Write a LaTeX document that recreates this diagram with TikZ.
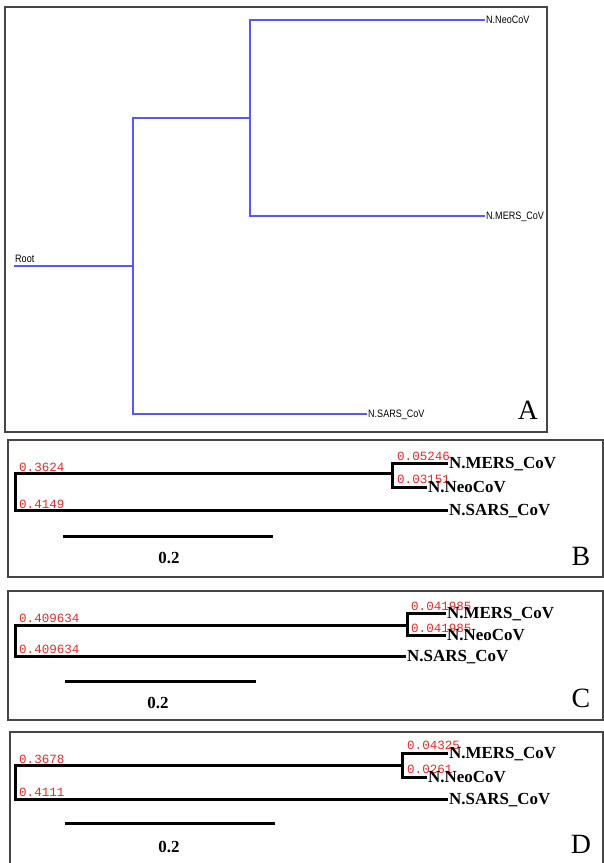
\documentclass[tikz,border=0pt]{standalone}
\usepackage{fontspec}
\setmainfont{Liberation Serif}
\newfontfamily\monof{Liberation Mono}
\newfontfamily\sansf{Liberation Sans}
\definecolor{treeblue}{RGB}{88,88,250}
\definecolor{blred}{RGB}{225,45,45}
\definecolor{framegray}{RGB}{70,70,70}
\begin{document}
\begin{tikzpicture}[x=1bp,y=-1bp,
  frameA/.style={draw=framegray, line width=1.8bp},
  frame/.style={draw=framegray, line width=1.3bp},
  blueb/.style={draw=treeblue, line width=1.4bp},
  br/.style={draw=black, line width=3bp, line join=miter},
  sbar/.style={draw=black, line width=3bp},
  leaf/.style={anchor=west, inner sep=1bp, text height=11.5bp, text depth=0pt, font=\fontsize{17}{17}\selectfont\bfseries},
  alab/.style={anchor=west, inner sep=1bp, text height=7.5bp, text depth=0pt, font=\fontsize{10.8}{10.8}\sansf},
  blen/.style={anchor=base west, inner sep=0pt, text=blred, font=\fontsize{12.6}{12.6}\monof},
  sclab/.style={inner sep=0pt, text height=11.5bp, text depth=0pt, font=\fontsize{17}{17}\selectfont\bfseries},
  plabel/.style={inner sep=0pt, text height=19bp, text depth=0pt, font=\fontsize{28}{28}\selectfont}
]
\useasboundingbox (0,0) rectangle (604,863);
\fill[white] (0,0) rectangle (604,863);

% ---------------- Panel A ----------------
\draw[frameA] (5,7) rectangle (547,432);
\coordinate (A0) at (14,266);
\coordinate (A1) at (133,266);
\coordinate (A2) at (250,118);
\node[alab] (aneo) at (485,20) {\scalebox{0.84}[1]{N.NeoCoV}};
\node[alab] (amers) at (485,216) {\scalebox{0.84}[1]{N.MERS\_CoV}};
\node[alab] (asars) at (367,414) {\scalebox{0.84}[1]{N.SARS\_CoV}};
\node[alab, anchor=base west, text height=, inner sep=0pt] (aroot) at (15,262) {\scalebox{0.84}[1]{Root}};
\draw[blueb] (A0) -- (A1);
\draw[blueb] (A1) |- (A2);
\draw[blueb] (A1) |- (asars.west);
\draw[blueb] (A2) |- (aneo.west);
\draw[blueb] (A2) |- (amers.west);
\node[plabel] (pA) at (528,410) {A};

% ---------------- Panel B ----------------
\draw[frame] (8,440) rectangle (603,577);
\coordinate (B0) at (15,491);
\coordinate (B1) at (392,473);
\node[blen] (b1) at (19,471) {0.3624};
\node[blen] (b2) at (19,508) {0.4149};
\node[blen] (b3) at (397,460) {0.05246};
\node[blen] (b4) at (397,483) {0.03151};
\node[leaf] (bmers) at (448,463) {N.MERS\_CoV};
\node[leaf] (bneo) at (427,487) {N.NeoCoV};
\node[leaf] (bsars) at (448,510) {N.SARS\_CoV};
\draw[br] (B1) -| (B0) |- (bsars.west);
\draw[br] (bmers.west) -| (B1) |- (bneo.west);
\coordinate (Bs1) at (63,536);
\coordinate (Bs2) at (273,536);
\draw[sbar] (Bs1) -- (Bs2);
\node[sclab] (bsc) at (169,558) {0.2};
\node[plabel] (pB) at (581,556) {B};

% ---------------- Panel C ----------------
\draw[frame] (8,591) rectangle (603,720);
\coordinate (C0) at (15,640);
\coordinate (C1) at (407,625);
\node[blen] (c1) at (19,622) {0.409634};
\node[blen] (c2) at (19,653) {0.409634};
\node[blen] (c3) at (411,610) {0.041985};
\node[blen] (c4) at (411,632) {0.041985};
\node[leaf] (cmers) at (446,613) {N.MERS\_CoV};
\node[leaf] (cneo) at (446,635) {N.NeoCoV};
\node[leaf] (csars) at (406,656) {N.SARS\_CoV};
\draw[br] (C1) -| (C0) |- (csars.west);
\draw[br] (cmers.west) -| (C1) |- (cneo.west);
\coordinate (Cs1) at (65,681);
\coordinate (Cs2) at (256,681);
\draw[sbar] (Cs1) -- (Cs2);
\node[sclab] (csc) at (158,703) {0.2};
\node[plabel] (pC) at (581,698) {C};

% ---------------- Panel D ----------------
\draw[frame] (10,866) -- (10,732) -- (603,732) -- (603,866);
\coordinate (D0) at (15,782);
\coordinate (D1) at (402,765);
\node[blen] (d1) at (19,763) {0.3678};
\node[blen] (d2) at (19,796) {0.4111};
\node[blen] (d3) at (407,749) {0.04325};
\node[blen] (d4) at (407,773) {0.0261};
\node[leaf] (dmers) at (448,753) {N.MERS\_CoV};
\node[leaf] (dneo) at (427,777) {N.NeoCoV};
\node[leaf] (dsars) at (448,799) {N.SARS\_CoV};
\draw[br] (D1) -| (D0) |- (dsars.west);
\draw[br] (dmers.west) -| (D1) |- (dneo.west);
\coordinate (Ds1) at (65,823);
\coordinate (Ds2) at (275,823);
\draw[sbar] (Ds1) -- (Ds2);
\node[sclab] (dsc) at (169,847) {0.2};
\node[plabel] (pD) at (581,844) {D};
\end{tikzpicture}
\end{document}
